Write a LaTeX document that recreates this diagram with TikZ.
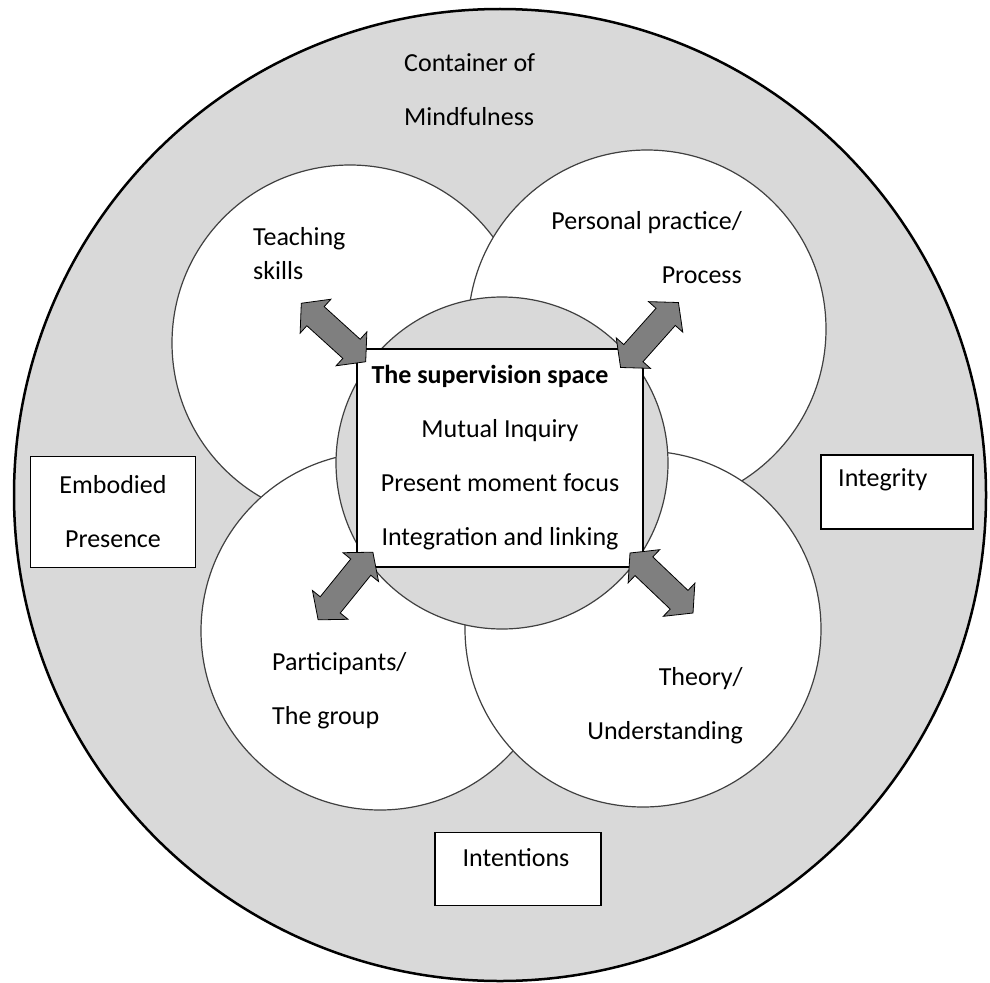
\documentclass[tikz,border=0pt]{standalone}
\usepackage{fontspec}
\setmainfont{Carlito}
\usetikzlibrary{shapes.arrows, positioning}
\definecolor{ringgray}{HTML}{D9D9D9}
\definecolor{arrowgray}{HTML}{7F7F7F}
\tikzset{every node/.style={font=\fontsize{26}{54}\selectfont}, % one text size for the whole figure
container/.style={circle, draw, line width=2.5pt, fill=ringgray, minimum size=972pt, inner sep=0pt}, % the outer ring
area/.style={circle, draw=black!75, line width=1.2pt, fill=white, inner sep=0pt}, % the four overlapping fields
hub/.style={circle, draw=black!75, line width=1.2pt, fill=ringgray, minimum size=332pt, inner sep=0pt}, % grey disc behind the box
textbox/.style={rectangle, draw, line width=1.5pt, fill=white, align=center}, % white boxes
lbl/.style={inner sep=0pt}, % plain text
link/.style={double arrow, draw, line width=0.8pt, fill=arrowgray, sloped, inner xsep=0pt, inner ysep=12.5pt,
  minimum height=87pt, double arrow head extend=10pt, double arrow tip angle=100}, % fat two-way arrows
}
\begin{document}
\begin{tikzpicture}[x=1pt, y=-1pt]
    \useasboundingbox (0,0) rectangle (990,982);
    \node[container] (mind) at (500,495) {};
    \node[lbl, anchor=west, align=left] (mindT) at (404,90) {Container of\\Mindfulness};

    \node[area, minimum size=356pt] (teach) at (350,343) {};
    \node[area, minimum size=358pt] (pers) at (647,329) {};
    \node[area, minimum size=358pt] (part) at (380,631) {};
    \node[area, minimum size=356pt] (theo) at (643,629) {};
    \node[hub] (hub) at (502,463) {};
    \node[textbox, minimum width=286pt, minimum height=218pt] (sup) at (500,458)
        {\textbf{The supervision space}\hspace*{20pt}\\Mutual Inquiry\\Present moment focus\\Integration and linking};

    \node[lbl, anchor=west, align=left, font=\fontsize{26}{34}\selectfont] (teachT) at (253,254) {Teaching\\skills};
    \node[lbl, anchor=east, align=right] (persT) at (742,248) {Personal practice/\\Process};
    \node[lbl, anchor=west, align=left] (partT) at (272,691) {Participants/\\The group};
    \node[lbl, anchor=east, align=right] (theoT) at (743,706) {Theory/\\Understanding};

    \node[textbox, minimum width=165pt, minimum height=111pt] (emb) at (113,512) {Embodied\\Presence};
    \node[textbox, minimum width=152pt, minimum height=74pt] (integ) at (897,492) {};
    \node[lbl, anchor=west] (integT) at (838,480) {Integrity};
    \node[textbox, minimum width=166pt, minimum height=73pt] (intent) at (518,869) {};
    \node[lbl] (intentT) at (516,858) {Intentions};

    % arrows between the box and the four fields
    \coordinate (teachOut) at (301,303); \coordinate (teachIn) at (366,362);
    \coordinate (persOut) at (678,303);  \coordinate (persIn) at (621,367);
    \coordinate (partOut) at (318,620);  \coordinate (partIn) at (373,552);
    \coordinate (theoOut) at (693,613);  \coordinate (theoIn) at (630,553);
    \path (teachIn) -- node[link] {} (teachOut);
    \path (persIn) -- node[link] {} (persOut);
    \path (partIn) -- node[link] {} (partOut);
    \path (theoIn) -- node[link] {} (theoOut);
\end{tikzpicture}
\end{document}
